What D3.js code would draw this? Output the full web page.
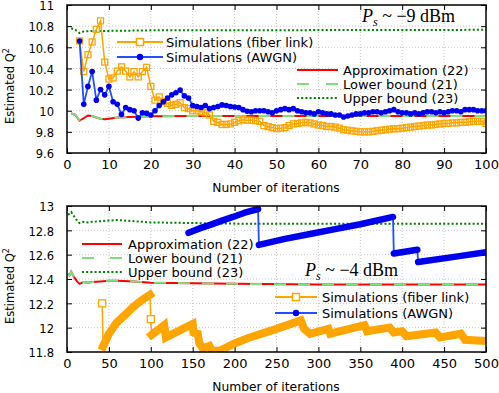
<!DOCTYPE html>
<html>
<head>
<meta charset="utf-8">
<script src="https://cdn.jsdelivr.net/npm/d3@7"></script>
<style>
body { margin: 0; background: #fff; }
svg text { font-family: "DejaVu Sans", sans-serif; fill: #000; }
.grid line { stroke: #b8b8b8; stroke-width: 0.8; stroke-dasharray: 1,2; }
.axis path { display: none; }
.axis line { stroke: #000; stroke-width: 1; }
.axis text { font-size: 13px; }
.yaxis text { font-size: 11.5px; }
</style>
</head>
<body>
<div class="viz"></div>
<script>
// ---------- data: top panel (P_s ~ -9 dBm) ----------
var xTicksTop = [0, 10, 20, 30, 40, 50, 60, 70, 80, 90, 100];
var yTicksTop = [9.6, 9.8, 10, 10.2, 10.4, 10.6, 10.8, 11];

// simulations, one value per iteration, starting at iteration 3
var fiberTop = [10.66, 10.37, 10.53, 10.65, 10.77, 10.85, 10.46, 10.30, 10.31, 10.375,
  10.415, 10.375, 10.32, 10.37, 10.32, 10.37, 10.41, 10.23, 10.10, 10.13,
  10.085, 10.07, 10.05, 10.06, 10.075, 10.03, 10.02, 10.0, 10.0, 9.99,
  9.98, 9.96, 9.90, 9.89, 9.87, 9.87, 9.875, 9.89, 9.905, 9.915,
  9.91, 9.91, 9.905, 9.90, 9.86, 9.85, 9.84, 9.83, 9.835, 9.84,
  9.86, 9.875, 9.88, 9.885, 9.89, 9.885, 9.875, 9.865, 9.86, 9.85,
  9.85, 9.845, 9.835, 9.82, 9.815, 9.81, 9.805, 9.80, 9.80, 9.80,
  9.805, 9.81, 9.815, 9.82, 9.825, 9.83, 9.83, 9.835, 9.84, 9.845,
  9.85, 9.855, 9.86, 9.865, 9.865, 9.87, 9.875, 9.88, 9.88, 9.885,
  9.885, 9.89, 9.89, 9.895, 9.90, 9.90, 9.90, 9.88];
var awgnTop = [10.66, 10.06, 10.23, 10.37, 10.10, 10.20, 10.15, 10.23, 10.085, 10.06,
  9.965, 10.03, 10.01, 10.0, 9.93, 9.98, 9.975, 9.96, 10.0, 10.05,
  10.085, 10.12, 10.15, 10.17, 10.195, 10.14, 10.12, 10.05, 10.04, 10.03,
  10.05, 10.02, 10.03, 10.04, 10.055, 10.05, 10.04, 10.035, 10.03, 10.01,
  9.995, 9.99, 10.0, 10.0, 10.0, 9.99, 9.98, 10.0, 10.01, 10.02,
  10.01, 10.02, 10.0, 9.99, 9.98, 9.98, 9.97, 9.99, 9.98, 9.97,
  9.97, 9.96, 9.96, 9.94, 9.95, 9.96, 9.97, 9.97, 9.98, 9.98,
  9.99, 9.99, 9.98, 9.99, 10.0, 10.01, 9.99, 9.98, 9.98, 9.97,
  9.98, 9.97, 9.98, 9.99, 9.99, 9.98, 9.99, 9.98, 9.99, 10.0,
  10.0, 9.99, 10.01, 10.01, 10.01, 10.0, 10.0, 10.0];
var firstIterTop = 3;

// bounds, [iteration, Q^2]
var approxTop = [[1, 9.975], [2, 9.96], [3, 9.905], [5, 9.955], [6, 9.95], [7, 9.935],
  [8, 9.925], [9, 9.92], [10, 9.925], [12, 9.935], [15, 9.94], [20, 9.948], [30, 9.95], [100, 9.95]];
var lowerTop = [[1, 9.975], [2, 9.96], [3, 9.91], [5, 9.955], [6, 9.95], [7, 9.935],
  [8, 9.925], [9, 9.92], [10, 9.925], [12, 9.935], [15, 9.94], [20, 9.948], [30, 9.95], [100, 9.95]];
var upperTop = [[1, 10.78], [2, 10.765], [3, 10.735], [4, 10.75], [6, 10.755], [10, 10.755],
  [20, 10.76], [100, 10.765]];

// ---------- data: bottom panel (P_s ~ -4 dBm) ----------
var xTicksBot = [0, 50, 100, 150, 200, 250, 300, 350, 400, 450, 500];
var yTicksBot = [11.8, 12, 12.2, 12.4, 12.6, 12.8, 13];

// dense simulation runs, [iteration, Q^2]
var fiberBotRuns = [
  [[43, 11.845], [50, 11.95], [59, 12.04], [70, 12.11], [79, 12.17], [90, 12.23], [99, 12.27]],
  [[101, 11.94], [116, 12.02], [118, 11.92], [150, 12.03], [151, 11.96], [156, 11.95], [158, 11.87],
   [162, 11.83], [170, 11.85], [173, 11.81], [182, 11.81], [200, 11.87], [218, 11.92], [250, 11.99],
   [279, 12.06], [283, 11.99], [290, 11.95], [312, 11.99], [314, 11.95], [355, 12.02], [358, 11.97],
   [385, 12.0], [390, 11.96], [400, 11.97], [405, 11.93], [440, 11.96], [445, 11.92], [470, 11.95],
   [475, 11.90], [500, 11.89]]
];
var fiberBotSingles = [[42, 12.2], [100, 12.07]];
var awgnBotRuns = [
  [[145, 12.78], [160, 12.82], [171, 12.845], [185, 12.88], [198, 12.91], [212, 12.945], [228, 12.975]],
  [[229, 12.68], [260, 12.73], [290, 12.77], [320, 12.81], [350, 12.85], [389, 12.91]],
  [[390, 12.61], [418, 12.64]],
  [[419, 12.54], [460, 12.58], [500, 12.62]]
];

var approxBot = [[1, 12.44], [3, 12.43], [5, 12.46], [8, 12.42], [12, 12.38], [15, 12.36], [20, 12.375],
  [25, 12.37], [30, 12.375], [40, 12.38], [50, 12.385], [60, 12.385], [80, 12.38], [100, 12.37],
  [150, 12.365], [200, 12.36], [300, 12.355], [500, 12.355]];
var lowerBot = approxBot;
var upperBot = [[1, 12.93], [3, 12.935], [5, 12.95], [8, 12.92], [12, 12.88], [15, 12.86], [20, 12.87],
  [25, 12.865], [30, 12.87], [50, 12.88], [60, 12.885], [80, 12.875], [100, 12.865], [150, 12.86],
  [200, 12.855], [500, 12.855]];

// ---------- colours ----------
var cFiber = "#ffa500", cAwgn = "#1f4fff", cAwgnDot = "#0000ee";
var cApprox = "#ff0000", cLower = "#7fdc7f", cUpper = "#008000";

// ---------- svg ----------
var width = 499, height = 393;
var svg = d3.select(".viz").append("svg")
  .attr("width", width).attr("height", height);

var fmt = function(d) { return String(+d.toFixed(1)); };

function drawPanel(id, x, y, xTicks, yTicks) {
  var x0 = x.range()[0], x1 = x.range()[1], yb = y.range()[0], yt = y.range()[1];
  var g = svg.append("g");

  g.append("clipPath").attr("id", id).append("rect")
    .attr("x", x0).attr("y", yt).attr("width", x1 - x0).attr("height", yb - yt);

  // grid
  var grid = g.append("g").attr("class", "grid");
  grid.selectAll(".gx").data(xTicks.slice(1, -1)).join("line").attr("class", "gx")
    .attr("x1", d => x(d)).attr("x2", d => x(d)).attr("y1", yb).attr("y2", yt);
  grid.selectAll(".gy").data(yTicks.slice(1, -1)).join("line").attr("class", "gy")
    .attr("y1", d => y(d)).attr("y2", d => y(d)).attr("x1", x0).attr("x2", x1);

  // axes, ticks inward on all four sides
  g.append("g").attr("class", "axis").attr("transform", "translate(0," + yb + ")")
    .call(d3.axisBottom(x).tickValues(xTicks).tickSize(-5).tickPadding(7));
  g.append("g").attr("class", "axis").attr("transform", "translate(0," + yt + ")")
    .call(d3.axisTop(x).tickValues(xTicks).tickSize(-5).tickFormat(""));
  g.append("g").attr("class", "axis yaxis").attr("transform", "translate(" + x0 + ",0)")
    .call(d3.axisLeft(y).tickValues(yTicks).tickSize(-5).tickPadding(13).tickFormat(fmt))
    .selectAll("text").attr("dy", "0.42em");
  g.append("g").attr("class", "axis").attr("transform", "translate(" + x1 + ",0)")
    .call(d3.axisRight(y).tickValues(yTicks).tickSize(-5).tickFormat(""));

  var plot = g.append("g").attr("clip-path", "url(#" + id + ")");
  return { g: g, plot: plot, frame: function() {
    g.append("rect").attr("x", x0).attr("y", yt).attr("width", x1 - x0).attr("height", yb - yt)
      .attr("fill", "none").attr("stroke", "#000").attr("stroke-width", 1.5);
  } };
}

function boundLines(plot, x, y, approx, lower, upper) {
  var line = d3.line().x(d => x(d[0])).y(d => y(d[1]));
  plot.append("path").attr("d", line(approx)).attr("fill", "none")
    .attr("stroke", cApprox).attr("stroke-width", 2);
  plot.append("path").attr("d", line(lower)).attr("fill", "none")
    .attr("stroke", cLower).attr("stroke-width", 2).attr("stroke-dasharray", "12,12");
  plot.append("path").attr("d", line(upper)).attr("fill", "none")
    .attr("stroke", cUpper).attr("stroke-width", 2).attr("stroke-dasharray", "2,2.2");
}

function legend(g, x1, x2, xt, rows) {
  rows.forEach(function(r) {
    var ly = r.y;
    var l = g.append("line").attr("x1", x1).attr("x2", x2).attr("y1", ly).attr("y2", ly)
      .attr("stroke", r.color).attr("stroke-width", r.w || 2);
    if (r.dash) l.attr("stroke-dasharray", r.dash);
    var mx = (x1 + x2) / 2;
    if (r.marker === "square") {
      g.append("rect").attr("x", mx - 3.5).attr("y", ly - 3.5).attr("width", 7).attr("height", 7)
        .attr("fill", "#fff").attr("stroke", r.color).attr("stroke-width", 1.5);
    } else if (r.marker === "circle") {
      g.append("circle").attr("cx", mx).attr("cy", ly).attr("r", 3.2).attr("fill", cAwgnDot);
    }
    g.append("text").attr("x", xt).attr("y", ly).attr("dy", "0.35em")
      .style("font-size", "13px").text(r.label);
  });
}

function psLabel(g, xx, yy, val) {
  var t = g.append("text").attr("x", xx).attr("y", yy)
    .style("font-family", "'Liberation Serif', serif").style("font-size", "18px");
  t.append("tspan").style("font-style", "italic").text("P");
  t.append("tspan").style("font-style", "italic").style("font-size", "12px").attr("dy", 4).text("s");
  t.append("tspan").attr("dy", -4).text(" ~ \u2212" + val + " dBm");
}

function yLabel(cy) {
  var t = svg.append("text").attr("transform", "translate(14," + cy + ") rotate(-90)")
    .attr("text-anchor", "middle").style("font-size", "11.5px");
  t.append("tspan").text("Estimated Q");
  t.append("tspan").attr("dy", -5).style("font-size", "8px").text("2");
}

// ================= top panel =================
var xTop = d3.scaleLinear().domain([0, 100]).range([67, 486]);
var yTop = d3.scaleLinear().domain([9.6, 11]).range([153, 5]);
var topPanel = drawPanel("clipTop", xTop, yTop, xTicksTop, yTicksTop);

boundLines(topPanel.plot, xTop, yTop, approxTop, lowerTop, upperTop);

var simLine = d3.line().x(d => xTop(d[0])).y(d => yTop(d[1]));
var fiberPts = fiberTop.map((v, i) => [i + firstIterTop, v]);
var awgnPts = awgnTop.map((v, i) => [i + firstIterTop, v]);

topPanel.plot.append("path").attr("d", simLine(fiberPts)).attr("fill", "none")
  .attr("stroke", cFiber).attr("stroke-width", 1.5);
topPanel.plot.selectAll(".sq").data(fiberPts).join("rect").attr("class", "sq")
  .attr("x", d => xTop(d[0]) - 3).attr("y", d => yTop(d[1]) - 3)
  .attr("width", 6).attr("height", 6).attr("fill", "none")
  .attr("stroke", cFiber).attr("stroke-width", 1.3);
topPanel.plot.append("path").attr("d", simLine(awgnPts)).attr("fill", "none")
  .attr("stroke", cAwgn).attr("stroke-width", 1.8);
topPanel.plot.selectAll(".dot").data(awgnPts).join("circle").attr("class", "dot")
  .attr("cx", d => xTop(d[0])).attr("cy", d => yTop(d[1])).attr("r", 2.8)
  .attr("fill", cAwgnDot);
topPanel.frame();

legend(topPanel.g, 117, 163, 166, [
  { y: 42, color: cFiber, marker: "square", label: "Simulations (fiber link)" },
  { y: 57, color: cAwgn, marker: "circle", label: "Simulations (AWGN)" }
]);
legend(topPanel.g, 297, 338, 343, [
  { y: 70, color: cApprox, label: "Approximation (22)" },
  { y: 84, color: cLower, dash: "12,17", label: "Lower bound (21)" },
  { y: 98, color: cUpper, dash: "2,2.2", label: "Upper bound (23)" }
]);
psLabel(topPanel.g, 362, 22, 9);
yLabel(86);
svg.append("text").attr("x", 276).attr("y", 192).attr("text-anchor", "middle")
  .style("font-size", "12.3px").text("Number of iterations");

// ================= bottom panel =================
var xBot = d3.scaleLinear().domain([0, 500]).range([67, 486]);
var yBot = d3.scaleLinear().domain([11.8, 13]).range([352, 206]);
var botPanel = drawPanel("clipBot", xBot, yBot, xTicksBot, yTicksBot);

boundLines(botPanel.plot, xBot, yBot, approxBot, lowerBot, upperBot);

var botLine = d3.line().x(d => xBot(d[0])).y(d => yBot(d[1]));

// fiber link: thin connecting line through every point, thick band where markers are dense
var fiberSeq = [fiberBotSingles[0]].concat(fiberBotRuns[0], [fiberBotSingles[1]], fiberBotRuns[1]);
botPanel.plot.append("path").attr("d", botLine(fiberSeq)).attr("fill", "none")
  .attr("stroke", cFiber).attr("stroke-width", 1.5);
fiberBotRuns.forEach(function(run) {
  botPanel.plot.append("path").attr("d", botLine(run)).attr("fill", "none")
    .attr("stroke", cFiber).attr("stroke-width", 8)
    .attr("stroke-linejoin", "miter").attr("stroke-linecap", "square");
});
botPanel.plot.selectAll(".sq").data(fiberBotSingles).join("rect").attr("class", "sq")
  .attr("x", d => xBot(d[0]) - 3.5).attr("y", d => yBot(d[1]) - 3.5)
  .attr("width", 7).attr("height", 7).attr("fill", "#fff")
  .attr("stroke", cFiber).attr("stroke-width", 1.3);

// AWGN
var awgnSeq = [].concat.apply([], awgnBotRuns);
botPanel.plot.append("path").attr("d", botLine(awgnSeq)).attr("fill", "none")
  .attr("stroke", cAwgn).attr("stroke-width", 1.8);
awgnBotRuns.forEach(function(run) {
  botPanel.plot.append("path").attr("d", botLine(run)).attr("fill", "none")
    .attr("stroke", cAwgnDot).attr("stroke-width", 6.5)
    .attr("stroke-linejoin", "round").attr("stroke-linecap", "round");
});
botPanel.frame();

legend(botPanel.g, 82, 122, 128, [
  { y: 244, color: cApprox, label: "Approximation (22)" },
  { y: 258, color: cLower, dash: "12,16", label: "Lower bound (21)" },
  { y: 272, color: cUpper, dash: "2,2.2", label: "Upper bound (23)" }
]);
legend(botPanel.g, 275, 317, 322, [
  { y: 297, color: cFiber, marker: "square", label: "Simulations (fiber link)" },
  { y: 313, color: cAwgn, marker: "circle", label: "Simulations (AWGN)" }
]);
psLabel(botPanel.g, 305, 276, 4);
yLabel(286);
svg.append("text").attr("x", 276).attr("y", 391).attr("text-anchor", "middle")
  .style("font-size", "12.3px").text("Number of iterations");
</script>
</body>
</html>
